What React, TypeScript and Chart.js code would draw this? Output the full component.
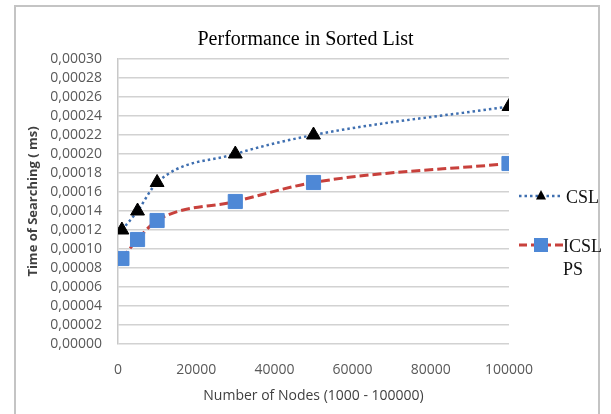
import React, { useEffect, useRef } from 'react';
import { Chart, registerables } from 'chart.js';

Chart.register(...registerables);

const nodeCounts = [1000, 5000, 10000, 30000, 50000, 100000];
const cslTimes = [0.00012, 0.00014, 0.00017, 0.0002, 0.00022, 0.00025];
const icslpsTimes = [0.00009, 0.00011, 0.00013, 0.00015, 0.00017, 0.00019];
const seriesNames = ['CSL', 'ICSL PS'];
const chartTitle = 'Performance in Sorted List';
const xAxisTitle = 'Number of Nodes (1000 - 100000)';
const yAxisTitle = 'Time of Searching ( ms)';
const yTickValues = [
  0, 0.00002, 0.00004, 0.00006, 0.00008, 0.0001, 0.00012, 0.00014, 0.00016,
  0.00018, 0.0002, 0.00022, 0.00024, 0.00026, 0.00028, 0.0003,
];
const xTickValues = [0, 20000, 40000, 60000, 80000, 100000];

const CSL_LINE = '#3f6fb0';
const ICSL_LINE = '#c8413c';
const ICSL_FILL = '#4e88d6';

const titleAndLegend = {
  id: 'titleAndLegend',
  afterDraw(chart: any) {
    const { ctx, chartArea } = chart;
    ctx.save();
    // Title, centred on the whole chart frame
    ctx.font = '20px "Liberation Serif", serif';
    ctx.fillStyle = '#000';
    ctx.textAlign = 'center';
    ctx.textBaseline = 'alphabetic';
    ctx.fillText(chartTitle, chart.width / 2, chartArea.top - 14);

    const x0 = chartArea.right + 10;
    // CSL
    const y1 = chartArea.top + 137;
    ctx.strokeStyle = CSL_LINE;
    ctx.lineWidth = 2.5;
    ctx.setLineDash([2.5, 3]);
    ctx.beginPath();
    ctx.moveTo(x0, y1);
    ctx.lineTo(x0 + 42, y1);
    ctx.stroke();
    ctx.setLineDash([]);
    ctx.fillStyle = '#000';
    ctx.beginPath();
    ctx.moveTo(x0 + 22, y1 - 6);
    ctx.lineTo(x0 + 27, y1 + 3.5);
    ctx.lineTo(x0 + 17, y1 + 3.5);
    ctx.closePath();
    ctx.fill();
    ctx.font = '18px "Liberation Serif", serif';
    ctx.textBaseline = 'middle';
    ctx.textAlign = 'left';
    ctx.fillStyle = '#111';
    ctx.fillText(seriesNames[0], x0 + 47, y1 + 2);
    // ICSL PS
    const y2 = chartArea.top + 186;
    ctx.strokeStyle = ICSL_LINE;
    ctx.lineWidth = 3;
    ctx.setLineDash([8, 4]);
    ctx.beginPath();
    ctx.moveTo(x0, y2);
    ctx.lineTo(x0 + 44, y2);
    ctx.stroke();
    ctx.setLineDash([]);
    ctx.fillStyle = ICSL_FILL;
    ctx.fillRect(x0 + 15, y2 - 7, 14, 14);
    ctx.fillStyle = '#111';
    const parts = seriesNames[1].split(' ');
    ctx.fillText(parts[0], x0 + 44, y2 + 2);
    ctx.fillText(parts[1], x0 + 44, y2 + 25);
    ctx.restore();
  },
};

export default function App() {
  const canvasRef = useRef<HTMLCanvasElement | null>(null);

  useEffect(() => {
    if (!canvasRef.current) return;
    const chart = new Chart(canvasRef.current, {
      type: 'line',
      data: {
        datasets: [
          {
            label: seriesNames[0],
            data: nodeCounts.map((n, i) => ({ x: n, y: cslTimes[i] })),
            borderColor: CSL_LINE,
            borderWidth: 2.5,
            borderDash: [2.5, 3],
            pointStyle: 'triangle',
            pointRadius: 8,
            pointBackgroundColor: '#000',
            pointBorderColor: '#000',
            pointBorderWidth: 1,
            cubicInterpolationMode: 'monotone',
            fill: false,
          },
          {
            label: seriesNames[1],
            data: nodeCounts.map((n, i) => ({ x: n, y: icslpsTimes[i] })),
            borderColor: ICSL_LINE,
            borderWidth: 3,
            borderDash: [9, 4],
            pointStyle: 'rect',
            pointRadius: 10,
            pointBackgroundColor: ICSL_FILL,
            pointBorderColor: ICSL_FILL,
            pointBorderWidth: 1,
            cubicInterpolationMode: 'monotone',
            fill: false,
          },
        ],
      },
      options: {
        animation: false,
        responsive: true,
        maintainAspectRatio: false,
        layout: { padding: { left: 25, right: 102, top: 59, bottom: 0 } },
        plugins: {
          legend: { display: false },
          tooltip: { enabled: false },
          title: { display: false },
        },
        scales: {
          x: {
            type: 'linear',
            min: xTickValues[0],
            max: xTickValues[xTickValues.length - 1],
            grid: { display: false },
            border: { display: false },
            afterBuildTicks: (scale: any) => {
              scale.ticks = xTickValues.map((v) => ({ value: v }));
            },
            ticks: {
              autoSkip: false,
              maxRotation: 0,
              padding: 10,
              color: '#595959',
              font: { family: '"Open Sans", sans-serif', size: 14 },
              callback: (v: any) => String(v),
            },
            title: {
              display: true,
              text: xAxisTitle,
              color: '#404040',
              padding: { top: 0, bottom: 10 },
              font: { family: '"Open Sans", sans-serif', size: 14 },
            },
            afterFit: (scale: any) => {
              scale.height = 70;
            },
          },
          y: {
            min: yTickValues[0],
            max: yTickValues[yTickValues.length - 1],
            grid: { color: '#d2d2d2', lineWidth: 1.5, drawTicks: false },
            border: { display: true, color: '#c8c8c8', width: 1.5 },
            afterBuildTicks: (scale: any) => {
              scale.ticks = yTickValues.map((v) => ({ value: v }));
            },
            ticks: {
              autoSkip: false,
              padding: 16,
              color: '#595959',
              font: { family: '"Open Sans", sans-serif', size: 14 },
              callback: (v: any) => Number(v).toFixed(5).replace('.', ','),
            },
            title: {
              display: true,
              text: yAxisTitle,
              color: '#404040',
              padding: { top: 0, bottom: 0 },
              font: { family: '"Open Sans", sans-serif', size: 13, weight: 'bold' },
            },
            afterFit: (scale: any) => {
              scale.width = 93;
            },
          },
        },
      },
      plugins: [titleAndLegend],
    });
    return () => chart.destroy();
  }, []);

  return (
    <div
      style={{
        position: 'absolute',
        left: 0,
        top: 0,
        width: 611,
        height: 414,
        overflow: 'hidden',
        background: '#fff',
      }}
    >
      <div
        style={{
          position: 'absolute',
          left: 14,
          top: 5,
          width: 582,
          height: 430,
          border: '2px solid #c4c4c4',
          borderBottom: 'none',
        }}
      />
      <div style={{ position: 'absolute', left: 0, top: 0, width: 611, height: 414 }}>
        <canvas ref={canvasRef} />
      </div>
    </div>
  );
}
